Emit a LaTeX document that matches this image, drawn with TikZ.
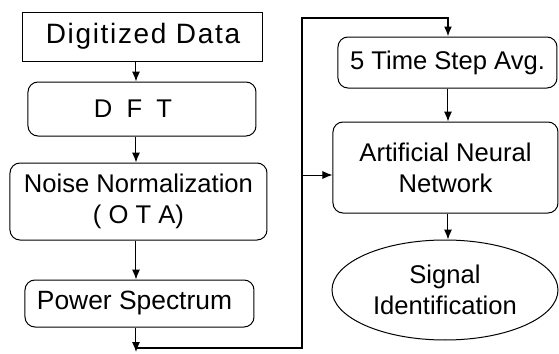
\documentclass[tikz,border=0pt]{standalone}
\usepackage{fontspec}
\setmainfont{Liberation Sans}
\usetikzlibrary{arrows.meta,shapes.geometric}
\begin{document}
\begin{tikzpicture}[x=0.5pt,y=-0.5pt,
  box/.style={draw,line width=0.5pt,inner sep=0pt,align=center,font=\fontsize{12.8}{15.5}\selectfont},
  rbox/.style={box,rounded corners=5pt},
  arr/.style={line width=0.5pt,-{Latex[length=5pt,width=4pt]}},
  ln/.style={line width=0.5pt}]
\useasboundingbox (0,0) rectangle (559,354);
\node[box,minimum width=120pt,minimum height=24.5pt,font=\fontsize{14}{16}\selectfont\addfontfeature{LetterSpace=6}] (dd) at (143,36.5) {Digitized Data};
\node[rbox,minimum width=114pt,minimum height=27pt] (dft) at (142,109) {D\ \ F\ \ T\hspace*{9pt}};
\node[rbox,minimum width=128.5pt,minimum height=38.5pt] (nn) at (138.5,201.5) {Noise Normalization\\( O T A)};
\node[rbox,minimum width=114.5pt,minimum height=23.5pt,font=\fontsize{13.2}{15.5}\selectfont] (ps) at (139.5,303.5) {Power Spectrum\hspace*{5pt}};
\node[rbox,minimum width=109.5pt,minimum height=25.5pt] (tsa) at (447.5,62.5) {5 Time Step Avg.};
\node[rbox,minimum width=112.5pt,minimum height=45.5pt] (ann) at (445.5,167.5) {Artificial Neural\\Network};
\node[box,ellipse,minimum width=113pt,minimum height=50pt] (si) at (445,290) {Signal\\Identification};
\coordinate (colL) at (136,0);
\coordinate (b1) at (136,348);
\coordinate (b2) at (302,348);
\coordinate (b3) at (302,18);
\coordinate (b4) at (448,18);
\coordinate (br) at (302,175);
\draw[arr] (dd.south -| colL) -- (dft.north -| colL);
\draw[arr] (dft.south -| colL) -- (nn.north -| colL);
\draw[arr] (nn.south -| colL) -- (ps.north -| colL);
\draw[arr] (ps.south -| colL) -- ([yshift=-2pt]b1);
\draw[arr,line width=0.8pt] (b1) -- (b2) -- (b3) -- (b4) -- (tsa.north -| b4);
\draw[arr] (br) -- (ann.west |- br);
\draw[arr] (tsa.south -| b4) -- (ann.north -| b4);
\draw[arr] (ann.south -| b4) -- (si.north -| b4);
\end{tikzpicture}
\end{document}
